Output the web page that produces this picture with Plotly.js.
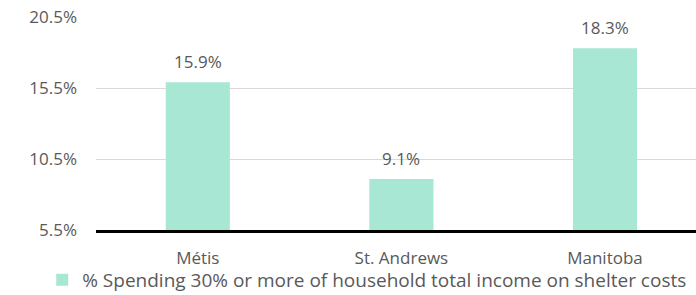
<!DOCTYPE html>
<html><head><meta charset="utf-8">
<script src="https://cdn.plot.ly/plotly-3.0.1.min.js"></script>
<style>html,body{margin:0;padding:0;background:#fff}#c{width:696px;height:295px}</style>
</head><body><div id="c"></div>
<script>
const categories = ["Métis", "St. Andrews", "Manitoba"];
const values = [15.9, 9.1, 18.3];
const seriesName = "% Spending 30% or more of household total income on shelter costs";
const yTicks = [5.5, 10.5, 15.5, 20.5];
const yTickLabels = ["5.5%", "10.5%", "15.5%", "20.5%"];

const font = "'Open Sans', sans-serif";
const grey = "#595959";
const fs = 17;

const trace = {
  type: "bar", x: categories, y: values, name: seriesName,
  marker: {color: "#a8e7d3"}, width: 0.315, showlegend: true,
  hoverinfo: "none"
};
const annotations = categories.map((c, i) => ({
  x: c, y: values[i], xref: "x", yref: "y", text: values[i].toFixed(1) + "%",
  showarrow: false, yanchor: "bottom", yshift: 7,
  font: {family: font, size: fs, color: grey}
}));
const layout = {
  width: 696, height: 295,
  margin: {l: 96, r: 0, t: 17, b: 65, autoexpand: false},
  paper_bgcolor: "#fff", plot_bgcolor: "#fff",
  font: {family: font, size: fs, color: grey},
  xaxis: {range: [-0.5, 2.447], showline: true, linecolor: "#000", linewidth: 3,
          ticks: "", ticklabelstandoff: 11, automargin: false,
          tickfont: {family: font, size: fs, color: grey}, fixedrange: true},
  yaxis: {range: [5.5, 20.5], tickvals: yTicks, ticktext: yTickLabels,
          showgrid: true, gridcolor: "#d9d9d9", gridwidth: 1, zeroline: false,
          ticks: "", ticklabelstandoff: 18, automargin: false,
          tickfont: {family: font, size: fs, color: grey}},
  showlegend: true,
  legend: {orientation: "h", x: 0.452, xanchor: "center", xref: "paper",
           y: 15/295, yanchor: "middle", yref: "container",
           bgcolor: "rgba(0,0,0,0)",
           font: {family: font, size: 19, color: grey}, itemclick: false},
  annotations: annotations
};
Plotly.newPlot("c", [trace], layout, {displayModeBar: false, staticPlot: true});
</script></body></html>
